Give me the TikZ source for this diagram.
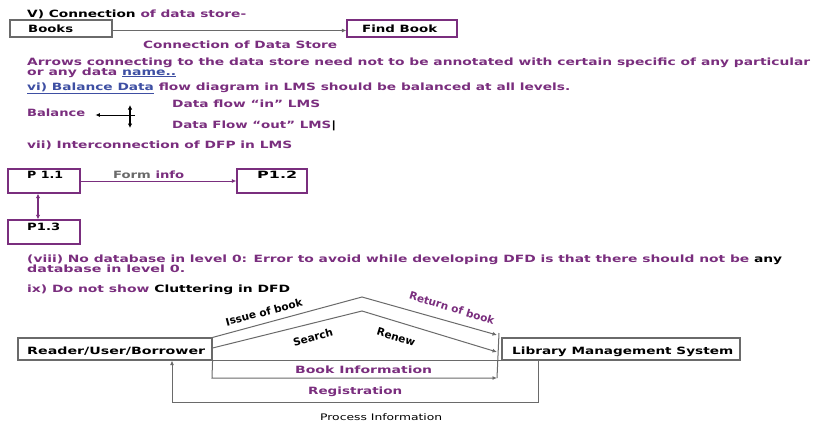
\documentclass[tikz,border=0pt]{standalone}
\usepackage{fontspec}
\usepackage{graphicx}
\setmainfont{DejaVu Sans}
\usetikzlibrary{arrows.meta,calc}
\definecolor{dfdpurple}{HTML}{7A2E7E}
\definecolor{dfdgray}{HTML}{6A6A6A}
\definecolor{dfdblue}{HTML}{3E4FA3}
% stretch a text horizontally to a given width, keeping its height
\newcommand{\fitw}[2]{\resizebox{#1}{\height}{#2}}
\begin{document}
\begin{tikzpicture}[x=1pt,y=-1pt,
  txt/.style={anchor=base west,inner sep=0pt,font=\fontsize{10}{11}\selectfont\bfseries},
  ctxt/.style={inner sep=0pt,font=\fontsize{10.5}{12}\selectfont\bfseries},
  graybox/.style={draw=dfdgray,line width=1.4pt,rectangle,inner sep=0pt},
  purplebox/.style={draw=dfdpurple,line width=1.4pt,rectangle,inner sep=0pt},
  flowbox/.style={draw=dfdgray,line width=1.1pt,rectangle,inner sep=0pt},
  flow/.style={draw=dfdgray,line width=1pt,-{Latex[length=4.5pt,width=4pt]}},
  pflow/.style={draw=dfdpurple,line width=1pt,-{Latex[length=4.5pt,width=4pt]}},
  pboth/.style={draw=dfdpurple,line width=1.6pt,{Latex[length=4.5pt,width=4.5pt]}-{Latex[length=4.5pt,width=4.5pt]}},
  kflow/.style={draw=black,line width=0.9pt,-{Latex[length=4.5pt,width=4pt]}},
  kboth/.style={draw=black,line width=1.2pt,{Latex[length=4.5pt,width=4.5pt]}-{Latex[length=4.5pt,width=4.5pt]}}]
\useasboundingbox (0,0) rectangle (814,423);
\fill[white] (0,0) rectangle (814,423);

% ---- v) connection of data store
\node[txt] (h5) at (27,17) {\fitw{219pt}{V) Connection \textcolor{dfdpurple}{of data store-}}};
\node[graybox,minimum width=102pt,minimum height=17pt] (books) at (61,28.5) {};
\node[txt] (bookst) at (28,32) {\fitw{45pt}{Books}};
\node[purplebox,minimum width=110pt,minimum height=17pt] (findbook) at (402,28.5) {};
\node[txt] (findbookt) at (362,32) {\fitw{75pt}{Find Book}};
\draw[flow] ([yshift=-2pt]books.east) -- ([yshift=-2pt]findbook.west);
\node[txt,text=dfdpurple] (cap5) at (143,48) {\fitw{194pt}{Connection of Data Store}};

\node[txt,text=dfdpurple] (p5a) at (27,65) {\fitw{783pt}{Arrows connecting to the data store need not to be annotated with certain specific of any particular}};
\node[txt,text=dfdpurple] (p5b) at (27,75) {\fitw{149pt}{or any data \textcolor{dfdblue}{\underline{name..}}}};

% ---- vi) balance
\node[txt,text=dfdpurple] (h6) at (27,90) {\fitw{543pt}{\textcolor{dfdblue}{\underline{vi) Balance Data}} flow diagram in LMS should be balanced at all levels.}};
\node[txt,text=dfdpurple] (din) at (172,107) {\fitw{148pt}{Data flow “in” LMS}};
\node[txt,text=dfdpurple] (dout) at (172,128) {\fitw{164pt}{Data Flow “out” LMS\textcolor{black}{|}}};
\node[txt,text=dfdpurple] (bal) at (27,116) {\fitw{58pt}{Balance}};
\coordinate (bhub) at (135,115);
\coordinate (btop) at (130,105);
\coordinate (bbot) at (130,128);
\draw[kflow] (bhub) -- ([xshift=10pt]bal.base east |- bhub);
\draw[kboth] (btop) -- (bbot);

% ---- vii) interconnection
\node[txt,text=dfdpurple] (h7) at (27,148) {\fitw{265pt}{vii) Interconnection of DFP in LMS}};
\node[purplebox,minimum width=72pt,minimum height=24pt] (p11) at (44,181) {};
\node[purplebox,minimum width=70pt,minimum height=24pt] (p12) at (272,181) {};
\node[purplebox,minimum width=72pt,minimum height=24pt] (p13) at (44,232) {};
\node[txt] (p11t) at (27,178) {\fitw{36pt}{P 1.1}};
\node[txt] (p12t) at (257,178) {\fitw{40pt}{P1.2}};
\node[txt] (p13t) at (27,230) {\fitw{33pt}{P1.3}};
\draw[pflow] (p11.east) -- (p12.west);
\node[txt,text=dfdpurple] (forminfo) at (113,178) {\fitw{71pt}{\textcolor{dfdgray}{Form} info}};
\draw[pboth] ([xshift=-6pt]p11.south) -- ([xshift=-6pt]p13.north);

% ---- viii), ix)
\node[txt,text=dfdpurple] (p8a) at (27,262) {\fitw{755pt}{(viii) No database in level 0: Error to avoid while developing DFD is that there should not be \textcolor{black}{any}}};
\node[txt,text=dfdpurple] (p8b) at (27,272) {\fitw{158pt}{database in level 0.}};
\node[txt,text=dfdpurple] (h9) at (27,292) {\fitw{263pt}{ix) Do not show \textcolor{black}{Cluttering in DFD}}};

% ---- context diagram
\node[flowbox,minimum width=194pt,minimum height=22pt] (reader) at (115,349) {};
\node[txt] (readert) at (27,354) {\fitw{178pt}{Reader/User/Borrower}};
\node[flowbox,minimum width=238pt,minimum height=22pt] (lms) at (621,349) {};
\node[txt] (lmst) at (512,354) {\fitw{221pt}{Library Management System}};

\coordinate (apexo) at (362,297);
\coordinate (apexi) at (362,311);
\coordinate (endo) at (497,335);
\coordinate (endi) at (497,352);
\coordinate (bicorner) at (212,378);
\coordinate (endb) at (497,378);
\coordinate (sidetop) at (499,333);
\coordinate (regtop) at (538,360);
\coordinate (regr) at (538,402);
\coordinate (regl) at (172,402);

\draw[flow] (reader.north east) -- (apexo) -- (endo);
\draw[flow] ([yshift=1pt]reader.east) -- (apexi) -- (endi);
\draw[draw=dfdgray,line width=1pt] (reader.south east) -- (lms.south west);
\draw[flow] (reader.south east) -- (bicorner) -- (endb);
\draw[draw=dfdgray,line width=1pt] (sidetop) -- (endb);
\draw[flow] (regtop) -- (regr) -- (regl) -- (regl |- reader.south);

\node[ctxt,rotate=15] (issue) at (264,312) {Issue of book};
\node[ctxt,rotate=15] (search) at (313,337) {Search};
\node[ctxt,rotate=-17,text=dfdpurple] (ret) at (452,308) {Return of book};
\node[ctxt,rotate=-17] (renew) at (396,337) {Renew};
\node[txt,text=dfdpurple] (bookinfo) at (295,373) {\fitw{137pt}{Book Information}};
\node[txt,text=dfdpurple] (reg) at (308,394) {\fitw{94pt}{Registration}};
\node[txt,font=\fontsize{9}{10}\selectfont] (procinfo) at (320,420) {\fitw{122pt}{Process Information}};
\end{tikzpicture}
\end{document}
